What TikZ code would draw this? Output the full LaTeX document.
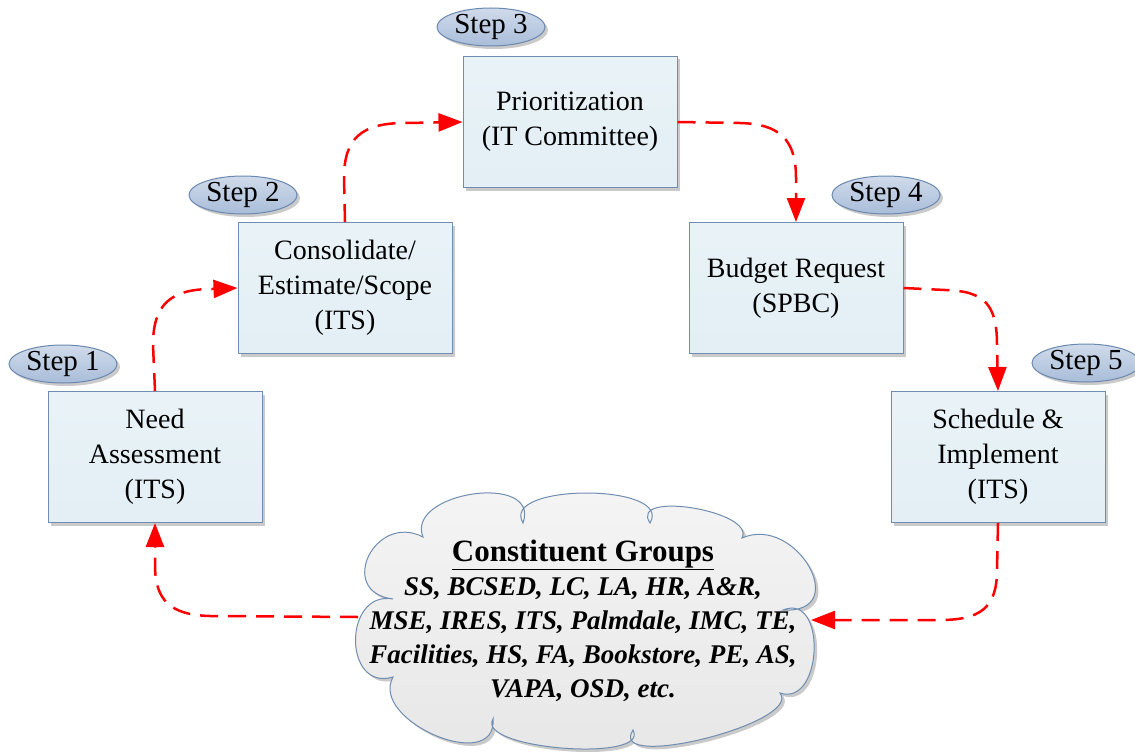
\documentclass[tikz,border=0pt]{standalone}
\usepackage{fontspec}
\setmainfont{Liberation Serif}
\usetikzlibrary{shapes.geometric,shadows,arrows.meta}
\definecolor{boxfill}{HTML}{E3EFF5}
\definecolor{boxline}{HTML}{6F8DB0}
\definecolor{ellfill}{HTML}{A9BDD9}
\definecolor{ellline}{HTML}{6A88B0}
\definecolor{arrred}{HTML}{FF0000}
\tikzset{
  stepbox/.style={draw=boxline, line width=1pt, top color=boxfill!80!white, bottom color=boxfill,
    minimum width=214pt, minimum height=131pt, align=center,
    font=\fontsize{28}{35}\selectfont, inner sep=0pt,
    drop shadow={shadow xshift=3pt, shadow yshift=-3pt, fill=black!35, opacity=0.6}},
  steplabel/.style={ellipse, draw=ellline, line width=1pt, top color=ellfill!55!white, bottom color=ellfill,
    minimum width=108pt, minimum height=38pt, inner sep=0pt,
    font=\fontsize{29}{32}\selectfont,
    drop shadow={shadow xshift=3pt, shadow yshift=-3pt, fill=black!35, opacity=0.6}},
  cloudshape/.style={draw=boxline, line width=1pt, top color={rgb,255:red,245;green,245;blue,245},
    bottom color={rgb,255:red,230;green,230;blue,230},
    drop shadow={shadow xshift=3pt, shadow yshift=-3pt, fill=black!35, opacity=0.6}},
  flow/.style={draw=arrred, line width=2.5pt, dash pattern=on 18pt off 10pt,
    -{Triangle[length=24pt,width=18pt]}},
}
\begin{document}
\begin{tikzpicture}[x=1pt,y=-1pt]
\useasboundingbox (0,0) rectangle (1135,752);
% boxes
\node[stepbox] (na) at (155,457) {Need\\Assessment\\(ITS)};
\node[stepbox] (co) at (345,288) {Consolidate/\\Estimate/Scope\\(ITS)};
\node[stepbox] (pr) at (570,122) {Prioritization\\(IT Committee)};
\node[stepbox] (bu) at (796,288) {Budget Request\\(SPBC)};
\node[stepbox] (sc) at (998,457) {Schedule \&\\Implement\\(ITS)};
% step labels
\node[steplabel] (s1) at (63,364) {Step 1};
\node[steplabel] (s2) at (243,195) {Step 2};
\node[steplabel] (s3) at (491,27) {Step 3};
\node[steplabel] (s4) at (886,195) {Step 4};
\node[steplabel] (s5) at (1086,363) {Step 5};
% cloud
\path[cloudshape] (393,599)
  .. controls (336,592) and (375,512) .. (423,537)
  .. controls (405,492) and (541,472) .. (523,523)
  .. controls (499,483) and (674,483) .. (650,523)
  .. controls (628,490) and (756,511) .. (742,538)
  .. controls (796,514) and (853,614) .. (783,610)
  .. controls (827,592) and (823,707) .. (780,693)
  .. controls (803,723) and (606,772) .. (633,730)
  .. controls (651,763) and (475,749) .. (493,719)
  .. controls (497,775) and (369,721) .. (393,677)
  .. controls (343,692) and (343,590) .. (393,599) -- cycle;
\node[align=center, font=\fontsize{27}{34}\selectfont\bfseries\itshape] (ct) at (583,621)
  {{\upshape\fontsize{31}{34}\selectfont\underline{Constituent Groups}}\\
   SS, BCSED, LC, LA, HR, A\&R,\\
   MSE, IRES, ITS, Palmdale, IMC, TE,\\
   Facilities, HS, FA, Bookstore, PE, AS,\\
   VAPA, OSD, etc.};
\coordinate (clr) at (811,620);
\coordinate (cll) at (358,617);
% arrows
\draw[flow] (na.north) -- (153,345) .. controls (153,305) and (170,289) .. (212,289) -- (co.west);
\draw[flow] (co.north) -- (344,178) .. controls (344,138) and (362,123) .. (405,123) -- (pr.west);
\draw[flow] (pr.east) -- (740,123) .. controls (780,124) and (796,140) .. (796,178) -- (bu.north);
\draw[flow] (bu.east) -- (945,290) .. controls (985,291) and (997,305) .. (997,345) -- (sc.north);
\draw[flow] (sc.south) -- (997,570) .. controls (997,608) and (980,620) .. (940,620) -- (clr);
\draw[flow] (cll) -- (210,616) .. controls (170,615) and (155,600) .. (155,565) -- (na.south);
\end{tikzpicture}
\end{document}
